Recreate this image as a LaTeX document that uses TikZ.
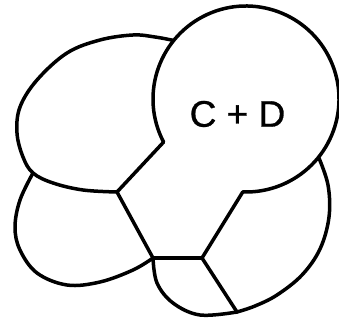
\documentclass[tikz,border=0pt]{standalone}
\usepackage{fontspec}
\setmainfont{Liberation Sans}
\newfontfamily\lblfont[FakeBold=0.8]{Liberation Sans}
\begin{document}
\begin{tikzpicture}[x=1pt,y=1pt,
  edge/.style={line width=3.5pt,line join=round,line cap=round},
  lbl/.style={font=\lblfont\fontsize{37}{40}\selectfont,inner sep=0pt}]
\useasboundingbox (0,0) rectangle (339,320);
% circle C+D
\coordinate (O) at (246,221);
\coordinate (D) at ([shift={(207.6:93pt)}]O);
\coordinate (C) at ([shift={(268:93pt)}]O);
\coordinate (A) at ([shift={(141:93pt)}]O);
\coordinate (B) at ([shift={(-38.7:93pt)}]O);
\coordinate (E) at (117,128);
\coordinate (G) at (153,62);
\coordinate (F) at (202,62);
\coordinate (H) at (237,8);
\coordinate (J) at (33,147);
\draw[edge] (D) arc[start angle=207.6,end angle=-92,radius=93pt];
% straight boundaries
\draw[edge] (D) -- (E);
\draw[edge] (E) -- (G);
\draw[edge] (C) -- (F);
\draw[edge] (G) -- (F);
\draw[edge] (F) -- (H);
% top-left lobe
\draw[edge] plot[smooth,tension=0.6] coordinates {(A) (155,283) (133,285) (100,280) (67,267) (37,240) (20,213) (17,187) (23,163) (J) (53,137) (83,130) (E)};
% lower-left lobe
\draw[edge] plot[smooth,tension=0.6] coordinates {(J) (20,120) (15,93) (20,70) (37,47) (67,35) (100,38) (133,50) (G)};
% bottom small lobe
\draw[edge] plot[smooth,tension=0.6] coordinates {(G) (157,37) (173,17) (200,5) (H)};
% right lobe
\draw[edge] plot[smooth,tension=0.6] coordinates {(B) (328,135) (329,103) (320,71) (302,45) (277,25) (255,14) (H)};
\node[lbl] (cd) at (237.5,206) {C + D};
\end{tikzpicture}
\end{document}
